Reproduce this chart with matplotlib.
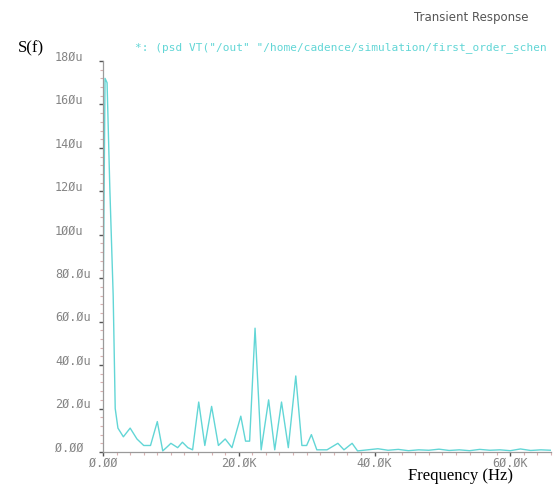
import numpy as np
import matplotlib
matplotlib.use("Agg")
import matplotlib.pyplot as plt
from matplotlib.ticker import MultipleLocator, FixedLocator

# spectrum (Hz, micro units)
freq = [0, 300, 600, 1000, 1500, 1800, 2200, 3000, 4000, 5000, 6000, 7000,
        8000, 8800, 9500, 10000, 11000, 11700, 12500, 13200, 14100, 15000,
        16000, 17000, 18000, 19000, 20300, 21000, 21600, 22400, 23300, 24400,
        25300, 26300, 27300, 28400, 29300, 30000, 30700, 31500, 33000, 34600,
        35500, 36700, 37500, 39000, 40500, 42000, 43500, 45000, 46500, 48000,
        49500, 51000, 52500, 54000, 55500, 57000, 58500, 60000, 61500, 63000,
        64500, 66000]
psd = [60, 172, 170, 122, 72, 20, 11, 7, 11, 6, 3, 3,
       14, 0.5, 2.5, 4, 2, 4.5, 2, 1, 23, 3,
       21, 3, 6, 2, 16.5, 5, 5, 57, 1, 24,
       1, 23, 2, 35, 3, 3, 8, 1, 1, 4,
       1, 4, 0.5, 1, 1.5, 0.8, 1.2, 0.6, 1, 0.8,
       1.3, 0.7, 1, 0.6, 1.2, 0.8, 1, 0.6, 1.4, 0.7,
       1, 0.8]

yticks = [0, 20, 40, 60, 80, 100, 120, 140, 160, 180]
ylabels = ["\u00d8.\u00d8\u00d8", "2\u00d8.\u00d8u", "4\u00d8.\u00d8u", "6\u00d8.\u00d8u",
           "8\u00d8.\u00d8u", "1\u00d8\u00d8u", "12\u00d8u", "14\u00d8u", "16\u00d8u", "18\u00d8u"]
xticks = [0, 20000, 40000, 60000]
xlabels = ["\u00d8.\u00d8\u00d8", "2\u00d8.\u00d8K", "4\u00d8.\u00d8K", "6\u00d8.\u00d8K"]

W, H = 555, 488
fig = plt.figure(figsize=(W / 100, H / 100), dpi=100)
x0, x1, y0, y1 = 103, 551, 452, 61
ax = fig.add_axes([x0 / W, 1 - y0 / H, (x1 - x0) / W, (y0 - y1) / H])

cyan = "#62d6d6"
ax.plot(freq, np.array(psd), color=cyan, lw=1.0)
ax.set_xlim(0, 66000)
ax.set_ylim(0, 180)

for s in ["top", "right"]:
    ax.spines[s].set_visible(False)
for s in ["left", "bottom"]:
    ax.spines[s].set_color("#9a9a9a")
    ax.spines[s].set_linewidth(0.9)

ax.yaxis.set_major_locator(FixedLocator(yticks))
ax.yaxis.set_minor_locator(MultipleLocator(4))
ax.xaxis.set_major_locator(FixedLocator(xticks))
ax.xaxis.set_minor_locator(MultipleLocator(2000))
ax.tick_params(axis="both", which="major", direction="out", length=3, color="#555555", width=1)
ax.tick_params(axis="both", which="minor", direction="out", length=2, color="#d8b0b0", width=0.8)
ax.set_yticklabels([])
ax.set_xticklabels([])

mono = "DejaVu Sans Mono"
for v, lab in zip(yticks, ylabels):
    yp = y0 - (y0 - y1) * v / 180 - 4
    fig.text(55 / W, 1 - yp / H, lab, ha="left", va="center", fontsize=8.5,
             family=mono, color="#858585")
for v, lab in zip(xticks, xlabels):
    xp = x0 + (x1 - x0) * v / 66000
    fig.text(xp / W, 1 - 463 / H, lab, ha="center", va="center", fontsize=8.5,
             family=mono, color="#858585")

fig.text(18 / W, 1 - 48 / H, "S(f)", ha="left", va="center", fontsize=12,
         family="Liberation Serif", color="black")
fig.text(471 / W, 1 - 18 / H, "Transient Response", ha="center", va="center",
         fontsize=8.5, family="DejaVu Sans", color="#555555")
fig.text(135 / W, 1 - 48 / H,
         '*: (psd VT("/out" "/home/cadence/simulation/first_order_schen',
         ha="left", va="center", fontsize=8.0, family=mono, color=cyan)
fig.text(460 / W, 1 - 476 / H, "Frequency (Hz)", ha="center", va="center",
         fontsize=12, family="Liberation Serif", color="black")

fig.savefig("out.png", dpi=100)
